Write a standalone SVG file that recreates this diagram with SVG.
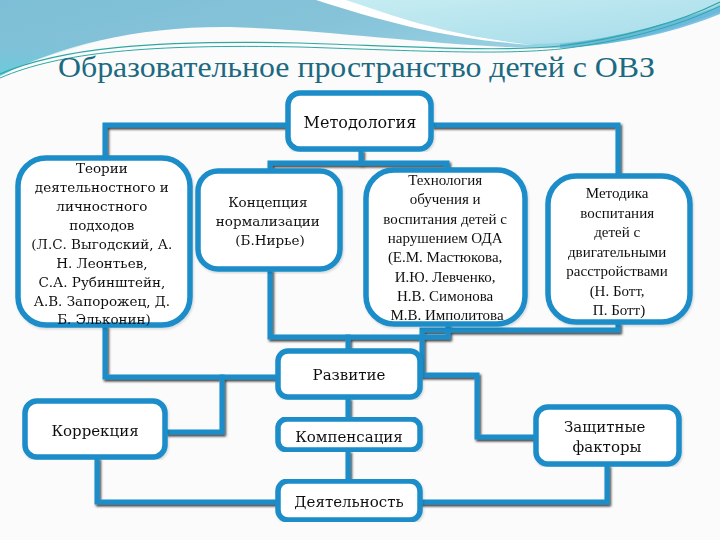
<svg xmlns="http://www.w3.org/2000/svg" width="720" height="540" viewBox="0 0 720 540">
  <defs>
    <linearGradient id="gBlue" x1="0" y1="0" x2="1" y2="0.4">
      <stop offset="0" stop-color="#7dbfd6"/>
      <stop offset="0.5" stop-color="#86c3d9"/>
      <stop offset="1" stop-color="#9fd6e6"/>
    </linearGradient>
    <linearGradient id="gLeft" x1="0" y1="0" x2="0" y2="1">
      <stop offset="0" stop-color="#7dbfd6" stop-opacity="0"/>
      <stop offset="1" stop-color="#5fd0e0"/>
    </linearGradient>
    <linearGradient id="gCyan" x1="0" y1="0" x2="1" y2="1">
      <stop offset="0" stop-color="#c6ecf2"/>
      <stop offset="1" stop-color="#a6dcea"/>
    </linearGradient>
    <filter id="sh" x="-5%" y="-5%" width="110%" height="110%">
      <feDropShadow dx="1.5" dy="2" stdDeviation="0.8" flood-color="#000" flood-opacity="0.75"/>
    </filter>
    <filter id="bsh" x="-5%" y="-5%" width="110%" height="110%">
      <feDropShadow dx="1" dy="1.5" stdDeviation="1" flood-color="#000" flood-opacity="0.15"/>
    </filter>
  </defs>
  <style>
    .box { fill: #ffffff; stroke: #1a8dc8; stroke-width: 5.5; }
    .conn { fill: none; stroke: #1a8dc8; stroke-width: 5; stroke-linejoin: miter; stroke-linecap: square; }
    .t { font-family: "DejaVu Serif", "Liberation Serif", serif; font-size: 13.5px; fill: #111; text-anchor: middle; }
    .tt { font-family: "Liberation Serif", serif; font-size: 15px; fill: #111; text-anchor: middle; }
    .lbl { font-family: "DejaVu Serif", "Liberation Serif", serif; font-size: 15px; fill: #111; text-anchor: middle; }
    .title { font-family: "Liberation Serif", "Times New Roman", serif; font-size: 30px; fill: #1c6a82; }
  </style>

  <!-- background -->
  <rect x="0" y="0" width="720" height="540" fill="#fbfbfb"/>

  <!-- top decoration -->
  <g id="decor">
    <path d="M0,0 H720 V12 C650,40 590,50 530,48 C420,44 330,30 230,27 C140,26 60,45 0,76 Z" fill="url(#gBlue)"/>
    <path d="M0,40 C40,35 80,40 120,36 C70,48 30,60 0,76 Z" fill="url(#gLeft)" opacity="0.8"/>
    <path d="M345,0 H720 V4 C660,30 590,44 530,44 C450,36 400,18 345,0 Z" fill="url(#gCyan)"/>
    <path d="M560,44 C620,38 680,20 720,6 V14 C680,30 630,44 560,48 Z" fill="#5fb4dc" opacity="0.8"/>
    <path d="M316,0 H346 C400,18 450,36 535,45 C450,40 385,22 316,0 Z" fill="#ffffff"/>
    <path d="M0,74 C60,48 150,40 300,43 C420,47 500,52 560,46 C620,39 680,22 720,2" fill="none" stroke="#2fa8a4" stroke-width="1.2"/>
    <path d="M0,78 C60,52 150,44 300,47 C420,51 500,55 560,49 C620,42 680,26 720,6" fill="none" stroke="#2fa8a4" stroke-width="1"/>
  </g>

  <text class="title" x="58" y="77" textLength="597" lengthAdjust="spacingAndGlyphs">Образовательное пространство детей с ОВЗ</text>

  <!-- connectors -->
  <g id="connectors" class="conn" filter="url(#sh)">
    <path d="M288,125 H105 V158"/>
    <path d="M434,125 H618 V176"/>
    <path d="M361,152 V163"/>
    <path d="M270,171 V163 H447 V170"/>
    <path d="M105,328 V377 H278"/>
    <path d="M168,432 H222 V377"/>
    <path d="M270,272 V337 H448 V327"/>
    <path d="M348,337 V351"/>
    <path d="M618,325 V330 H422 V375 H477 V437 H536"/>
    <path d="M348,400 V419"/>
    <path d="M348,453 V481"/>
    <path d="M97,460 V502 H278"/>
    <path d="M607,467 V502 H420"/>
  </g>

  <!-- nodes -->
  <g id="metodologiya" filter="url(#bsh)">
    <rect class="box" x="288" y="93" width="143" height="56" rx="12"/>
    <text class="lbl" x="360" y="128" style="font-size:16px">Методология</text>
  </g>

  <g id="teorii" filter="url(#bsh)">
    <rect class="box" x="18" y="158" width="172" height="167" rx="28"/>
    <text class="t" x="104">
      <tspan x="104" y="173">Теории</tspan>
      <tspan x="104" y="192">деятельностного и</tspan>
      <tspan x="104" y="211">личностного</tspan>
      <tspan x="104" y="230">подходов</tspan>
      <tspan x="104" y="249">(Л.С. Выгодский, А.</tspan>
      <tspan x="104" y="268">Н. Леонтьев,</tspan>
      <tspan x="104" y="287">С.А. Рубинштейн,</tspan>
      <tspan x="104" y="306">А.В. Запорожец, Д.</tspan>
      <tspan x="104" y="324">Б. Эльконин)</tspan>
    </text>
  </g>

  <g id="kontseptsiya" filter="url(#bsh)">
    <rect class="box" x="198" y="171" width="142" height="98" rx="20"/>
    <text class="t" x="270">
      <tspan x="270" y="207">Концепция</tspan>
      <tspan x="270" y="226">нормализации</tspan>
      <tspan x="270" y="245">(Б.Нирье)</tspan>
    </text>
  </g>

  <g id="tekhnologiya" filter="url(#bsh)">
    <rect class="box" x="366" y="170" width="159" height="154" rx="28"/>
    <text class="tt" x="447">
      <tspan x="447" y="185">Технология</tspan>
      <tspan x="447" y="204">обучения и</tspan>
      <tspan x="447" y="223.5">воспитания детей с</tspan>
      <tspan x="447" y="243">нарушением ОДА</tspan>
      <tspan x="447" y="262">(Е.М. Мастюкова,</tspan>
      <tspan x="447" y="281.5">И.Ю. Левченко,</tspan>
      <tspan x="447" y="301">Н.В. Симонова</tspan>
      <tspan x="447" y="320">М.В. Имполитова</tspan>
    </text>
  </g>

  <g id="metodika" filter="url(#bsh)">
    <rect class="box" x="548" y="176" width="142" height="146" rx="28"/>
    <text class="tt" x="619">
      <tspan x="619" y="198">Методика</tspan>
      <tspan x="619" y="217.5">воспитания</tspan>
      <tspan x="619" y="237">детей с</tspan>
      <tspan x="619" y="256.5">двигательными</tspan>
      <tspan x="619" y="276">расстройствами</tspan>
      <tspan x="619" y="295.5">(Н. Ботт,</tspan>
      <tspan x="619" y="315">П. Ботт)</tspan>
    </text>
  </g>

  <g id="razvitie" filter="url(#bsh)">
    <rect class="box" x="278" y="351" width="142" height="46" rx="10"/>
    <text class="lbl" x="349" y="380">Развитие</text>
  </g>

  <g id="kompensatsiya" filter="url(#bsh)">
    <rect class="box" x="278" y="419" width="142" height="31" rx="9"/>
    <text class="lbl" x="349" y="442">Компенсация</text>
  </g>

  <g id="deyatelnost" filter="url(#bsh)">
    <rect class="box" x="278" y="481" width="142" height="39" rx="10"/>
    <text class="lbl" x="349" y="507">Деятельность</text>
  </g>

  <g id="korrektsiya" filter="url(#bsh)">
    <rect class="box" x="25" y="401" width="140" height="56" rx="12"/>
    <text class="lbl" x="95" y="436">Коррекция</text>
  </g>

  <g id="zashchitnye" filter="url(#bsh)">
    <rect class="box" x="536" y="407" width="143" height="57" rx="12"/>
    <text class="lbl" x="607" y="432">
      <tspan x="607" y="432">Защитные</tspan>
      <tspan x="607" y="452">факторы</tspan>
    </text>
  </g>
</svg>
